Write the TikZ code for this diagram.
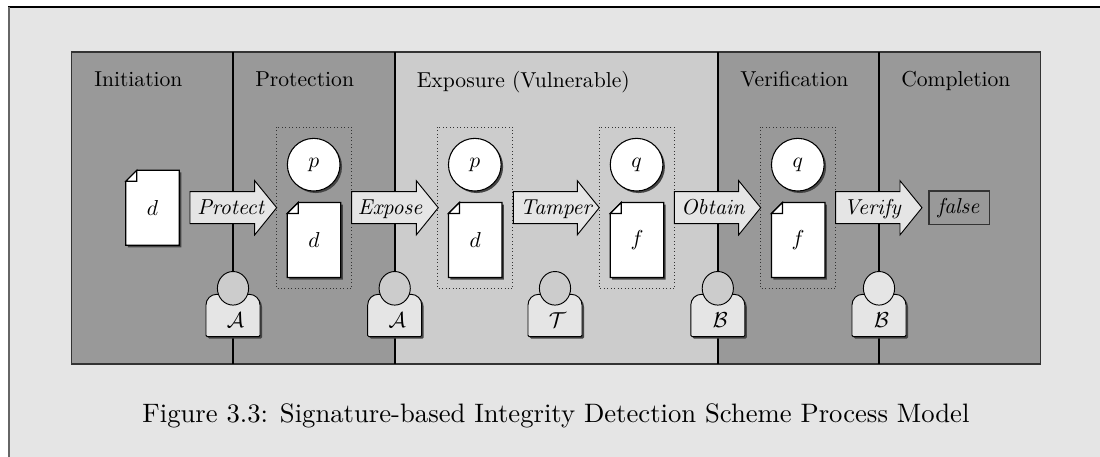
\documentclass[tikz,border=0pt]{standalone}
\usepackage{graphicx}
\usepackage{amsmath}
\usetikzlibrary{shadows,calc}
\definecolor{pagebg}{HTML}{E5E5E5}
\definecolor{lightfill}{HTML}{CCCCCC}
\definecolor{darkfill}{HTML}{999999}
\definecolor{edgegray}{HTML}{333333}
\definecolor{shadowgray}{HTML}{444444}
\newcommand{\lab}[1]{\scalebox{1.62}{#1}}
\newcommand{\caplab}[1]{\scalebox{2.0}{#1}}
\tikzset{
  x=0.75pt,y=-0.75pt,
  shad/.style={drop shadow={shadow xshift=1.5pt,shadow yshift=-1.5pt,fill=shadowgray,opacity=1}},
  phase/.style={fill=#1,draw=none},
  phasetitle/.style={anchor=base west,inner sep=0pt,text=black},
  divider/.style={draw=black,line width=0.8pt},
  grouping/.style={draw=edgegray,dotted,line width=0.6pt},
  blockarrow/.style={draw=black,fill=pagebg,line width=0.7pt,line join=miter},
  docsheet/.style={draw=black,fill=white,line width=0.9pt,shad},
  docfold/.style={draw=black,fill=white,line width=0.9pt},
  keydisc/.style={circle,draw=black,fill=white,line width=0.8pt,minimum size=39.5pt,inner sep=0pt,shad},
  personbody/.style={draw=black,fill=pagebg,line width=0.7pt,shad},
  personhead/.style={draw=black,fill=#1,line width=0.7pt},
  plain/.style={inner sep=0pt},
  resultbox/.style={draw=edgegray,fill=darkfill,line width=0.9pt,minimum width=45.5pt,minimum height=25.2pt,inner sep=0pt}
}
% name, left, top, label
\newcommand{\docitem}[4]{%
  \path[docsheet] ({#2+11},#3) -- ({#2+53.5},#3) -- ({#2+53.5},{#3+75}) -- (#2,{#3+75}) -- (#2,{#3+11}) -- cycle;
  \path[docfold] ({#2+11},#3) -- ({#2+11},{#3+11}) -- (#2,{#3+11}) -- cycle;
  \node[plain] (#1) at ({#2+26.75},{#3+37.5}) {\lab{$#4$}};
}
% name, left, tip, label, label centre x
\newcommand{\flowarrow}[5]{%
  \path[blockarrow] (#2,191.7) -- ({#3-22},191.7) -- ({#3-22},180.7) -- (#3,207.7) -- ({#3-22},234.9) -- ({#3-22},223.7) -- (#2,223.7) -- cycle;
  \node[plain,anchor=base] (#1) at (#5,214) {\lab{$\mathit{#4}$}};
}
% name, centre x, head fill, label
\newcommand{\person}[4]{%
  \path[personbody,rounded corners=10pt] ({#2-27},336.7) [rounded corners=1pt] -- ({#2-27},336.7) [rounded corners=8pt] -- ({#2-27},294.3) -- ({#2+27},294.3) [rounded corners=1pt] -- ({#2+27},336.7) -- cycle;
  \path[personhead=#3] (#2,288.3) ellipse [x radius=15.6,y radius=16.8];
  \node[plain] (#1) at ({#2+2.5},320) {\lab{$\mathcal{#4}$}};
}
% name, dotted box left, key label, doc label
\newcommand{\bundle}[4]{%
  \path[grouping] (#2,127) rectangle ({#2+75.4},288.7);
  \node[keydisc] (#1key) at ({#2+37.4},164.7) {\lab{$#3$}};
  \docitem{#1doc}{#2+11}{202.5}{#4}
}
\begin{document}
\begin{tikzpicture}
\useasboundingbox (0,0) rectangle (1100,457);
% page
\path[fill=white] (0,0) rectangle (1100,457);
\path[fill=pagebg] (8,7) rectangle (1100,457);
\draw[black,line width=0.9pt] (8,7) -- (1100,7);
\draw[black!60,line width=1.4pt] (8.7,7) -- (8.7,457);
% phases
\path[phase=darkfill] (71.5,52) rectangle (395,364);
\path[phase=lightfill] (395,52) rectangle (718,364);
\path[phase=darkfill] (718,52) rectangle (1040.5,364);
\draw[edgegray,line width=0.9pt] (71.5,52) rectangle (1040.5,364);
\draw[divider] (233,52) -- (233,364);
\draw[divider] (395,52) -- (395,364);
\draw[divider] (718,52) -- (718,364);
\draw[divider] (879,52) -- (879,364);
\node[phasetitle] (t1) at (94,86) {\lab{Initiation}};
\node[phasetitle] (t2) at (255,86) {\lab{Protection}};
\node[phasetitle] (t3) at (416.5,87) {\lab{Exposure (Vulnerable)}};
\node[phasetitle] (t4) at (740,86) {\lab{Verification}};
\node[phasetitle] (t5) at (901,86) {\lab{Completion}};
% content
\docitem{d0}{125.8}{170.3}{d}
\bundle{b1}{276.3}{p}{d}
\bundle{b2}{437.4}{p}{d}
\bundle{b3}{599.2}{q}{f}
\bundle{b4}{760.4}{q}{f}
\flowarrow{a1}{190}{276.7}{Protect}{231.7}
\flowarrow{a2}{351.7}{438.3}{Expose}{391}
\flowarrow{a3}{513.3}{599.3}{Tamper}{557.2}
\flowarrow{a4}{674.3}{760.7}{Obtain}{713.7}
\flowarrow{a5}{835.7}{922}{Verify}{873.3}
\node[resultbox] (res) at (959.3,207.7) {\lab{$\mathit{false}$}};
\person{p1}{233}{lightfill}{A}
\person{p2}{394.7}{lightfill}{A}
\person{p3}{555}{lightfill}{T}
\person{p4}{717.8}{lightfill}{B}
\person{p5}{879}{pagebg}{B}
\node[inner sep=0pt] (cap) at (556,416) {\caplab{Figure 3.3: Signature-based Integrity Detection Scheme Process Model}};
\end{tikzpicture}
\end{document}
